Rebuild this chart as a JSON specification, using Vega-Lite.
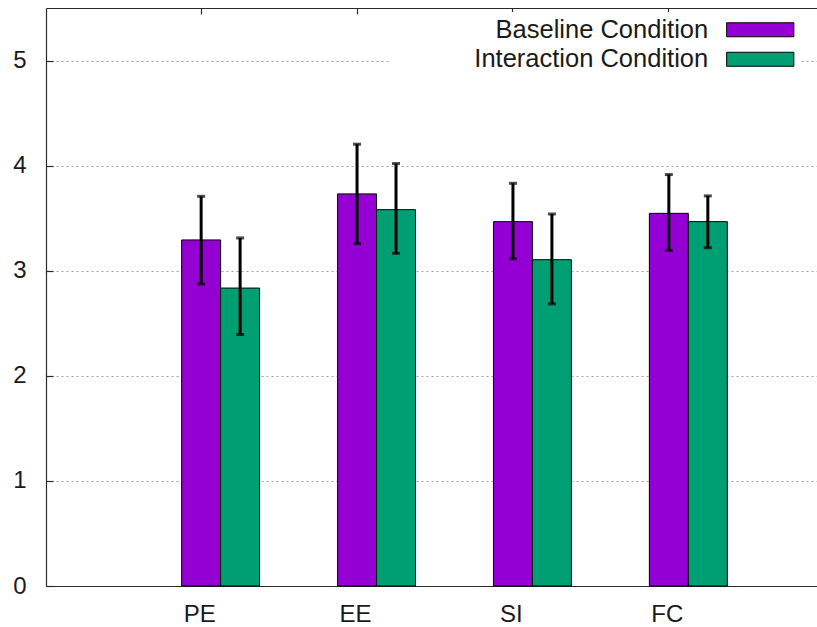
{
  "$schema": "https://vega.github.io/schema/vega-lite/v6.json",
  "width": 771,
  "height": 578,
  "autosize": {"type": "none"},
  "padding": {"left": 46, "top": 8, "right": 0, "bottom": 41},
  "background": "white",
  "config": {
    "view": {"stroke": null},
    "font": "Liberation Sans",
    "axis": {"domainColor": "#2a2a2a", "domainWidth": 1.2, "tickColor": "#2a2a2a", "tickWidth": 1.2, "labelColor": "#1a1a1a", "labelFont": "Liberation Sans"}
  },
  "data": {
    "values": [
      {"category": "PE", "condition": "Baseline Condition", "value": 3.293, "lo": 2.873, "hi": 3.708},
      {"category": "PE", "condition": "Interaction Condition", "value": 2.835, "lo": 2.393, "hi": 3.312},
      {"category": "EE", "condition": "Baseline Condition", "value": 3.731, "lo": 3.257, "hi": 4.204},
      {"category": "EE", "condition": "Interaction Condition", "value": 3.581, "lo": 3.165, "hi": 4.02},
      {"category": "SI", "condition": "Baseline Condition", "value": 3.467, "lo": 3.114, "hi": 3.832},
      {"category": "SI", "condition": "Interaction Condition", "value": 3.105, "lo": 2.685, "hi": 3.54},
      {"category": "FC", "condition": "Baseline Condition", "value": 3.546, "lo": 3.193, "hi": 3.915},
      {"category": "FC", "condition": "Interaction Condition", "value": 3.467, "lo": 3.219, "hi": 3.712}
    ]
  },
  "encoding": {
    "x": {
      "field": "category",
      "type": "nominal",
      "sort": ["PE", "EE", "SI", "FC"],
      "axis": null,
      "scale": {"paddingInner": 0.5, "paddingOuter": 0.7227, "align": 0.602}
    },
    "xOffset": {
      "field": "condition",
      "type": "nominal",
      "sort": ["Baseline Condition", "Interaction Condition"],
      "scale": {"paddingInner": 0, "paddingOuter": 0}
    }
  },
  "layer": [
    {
      "mark": {"type": "bar", "stroke": "black", "strokeWidth": 1, "opacity": 1},
      "encoding": {
        "x": {
          "field": "category",
          "type": "nominal",
          "sort": ["PE", "EE", "SI", "FC"],
          "axis": {"orient": "bottom", "title": null, "labelAngle": 0, "labelFontSize": 24, "labelPadding": 22, "labelOffset": -21, "tickSize": -6, "bandPosition": 0.25, "domain": true}
        },
        "y": {
          "field": "value",
          "type": "quantitative",
          "scale": {"domain": [0, 5.5], "nice": false, "zero": true},
          "axis": {"title": null, "values": [0, 1, 2, 3, 4, 5], "format": "d", "labelFontSize": 24, "tickSize": -7, "labelPadding": 27, "grid": true, "gridColor": "#a0a0a0", "gridDash": [2, 3], "gridWidth": 1}
        },
        "color": {
          "field": "condition",
          "type": "nominal",
          "scale": {"domain": ["Baseline Condition", "Interaction Condition"], "range": ["#9400D3", "#009E73"]},
          "legend": {
            "orient": "none",
            "legendX": 344,
            "legendY": 4,
            "title": null,
            "fillColor": "white",
            "padding": 5,
            "symbolType": "M-4.8,-1H4.8V1H-4.8Z",
            "symbolSize": 196,
            "symbolStrokeColor": "black",
            "symbolStrokeWidth": 1,
            "symbolOpacity": 1,
            "symbolOffset": 352.5,
            "labelAlign": "right",
            "labelOffset": -64.8,
            "labelFontSize": 25.5,
            "labelFont": "Liberation Sans",
            "labelColor": "#1a1a1a",
            "labelLimit": 400,
            "rowPadding": 2.5
          }
        }
      }
    },
    {
      "mark": {"type": "rule", "color": "black", "strokeWidth": 3},
      "encoding": {
        "x": {
          "field": "category",
          "type": "nominal",
          "sort": ["PE", "EE", "SI", "FC"],
          "axis": {"orient": "top", "title": null, "labels": false, "tickSize": -6, "bandPosition": 0.25, "domain": true}
        },
        "y": {"field": "lo", "type": "quantitative"},
        "y2": {"field": "hi"}
      }
    },
    {
      "mark": {"type": "tick", "color": "black", "size": 8, "thickness": 3},
      "encoding": {
        "y": {"field": "lo", "type": "quantitative"}
      }
    },
    {
      "mark": {"type": "tick", "color": "black", "size": 8, "thickness": 3},
      "encoding": {
        "y": {"field": "hi", "type": "quantitative"}
      }
    }
  ],
  "resolve": {"axis": {"x": "independent"}}
}
